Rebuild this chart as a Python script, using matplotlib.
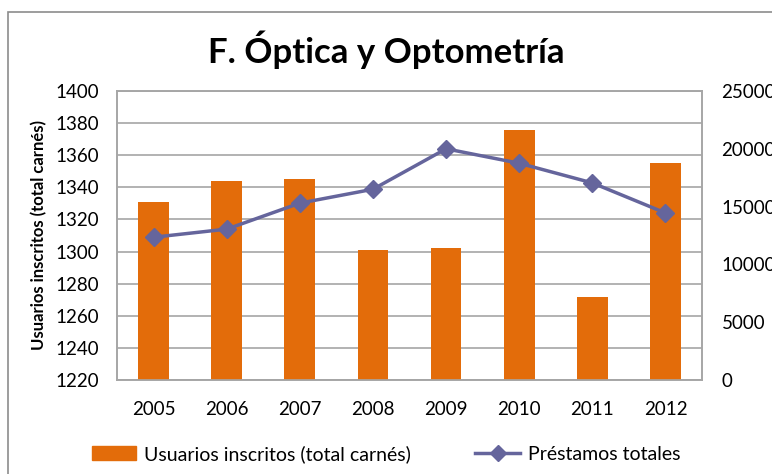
import numpy as np
import matplotlib.pyplot as plt
from matplotlib.lines import Line2D
from matplotlib.patches import Patch, Rectangle

years = ['2005', '2006', '2007', '2008', '2009', '2010', '2011', '2012']
usuarios = [1331, 1344, 1345, 1301, 1302, 1376, 1272, 1355]
prestamos = [12350, 13050, 15300, 16500, 20000, 18750, 17050, 14450]

bar_color = '#E36C0A'
line_color = '#65659C'
grid_color = '#A6A6A6'

plt.rcParams['font.family'] = ['Lato', 'DejaVu Sans']

fig = plt.figure(figsize=(7.72, 4.74), dpi=100)
ax = fig.add_axes([117 / 772, 1 - 380 / 474, 585 / 772, 289 / 474])
ax2 = ax.twinx()

x = np.arange(len(years))
ax.bar(x, usuarios, width=0.42, color=bar_color, zorder=3)
ax.set_ylim(1220, 1400)
ax.set_yticks(np.arange(1220, 1401, 20))
ax.set_xlim(-0.5, len(years) - 0.5)
ax.set_xticks(x)
ax.set_xticklabels(years)
ax.yaxis.grid(True, color=grid_color, linewidth=1.2, zorder=0)
ax.set_axisbelow(True)

ax2.plot(x, prestamos, color=line_color, linewidth=2.5, marker='D', markersize=9, zorder=4)
ax2.set_ylim(0, 25000)
ax2.set_yticks(np.arange(0, 25001, 5000))

for a in (ax, ax2):
    for s in a.spines.values():
        s.set_color(grid_color)
        s.set_linewidth(1.2)
    a.tick_params(length=0, labelsize=13.5, colors='black')
ax.tick_params(axis='x', pad=15)
ax.tick_params(axis='y', pad=13)
ax2.tick_params(axis='y', pad=14)

ax.set_ylabel('Usuarios inscritos (total carnés)', fontsize=12, fontweight='bold', labelpad=6)

fig.text(0.5, 1 - 50 / 474, 'F. Óptica y Optometría', ha='center', va='center',
         fontsize=25, fontweight='bold')

# chart frame (right edge runs off the image, as in the original)
fig.patches.append(Rectangle((8 / 772, -0.01), 1.0, 1 - 12 / 474 + 0.01, transform=fig.transFigure,
                             fill=False, edgecolor='#8C8C8C', linewidth=1.2))

handles = [Patch(color=bar_color),
           Line2D([0], [0], color=line_color, linewidth=2.5, marker='D', markersize=8)]
fig.legend(handles, ['Usuarios inscritos (total carnés)', 'Préstamos totales'],
           loc='center', bbox_to_anchor=(0.5, 1 - 454 / 474), ncol=2, frameon=False,
           fontsize=14, handlelength=2.3, handletextpad=0.4, columnspacing=3.3)

fig.savefig('out.png', dpi=100)
